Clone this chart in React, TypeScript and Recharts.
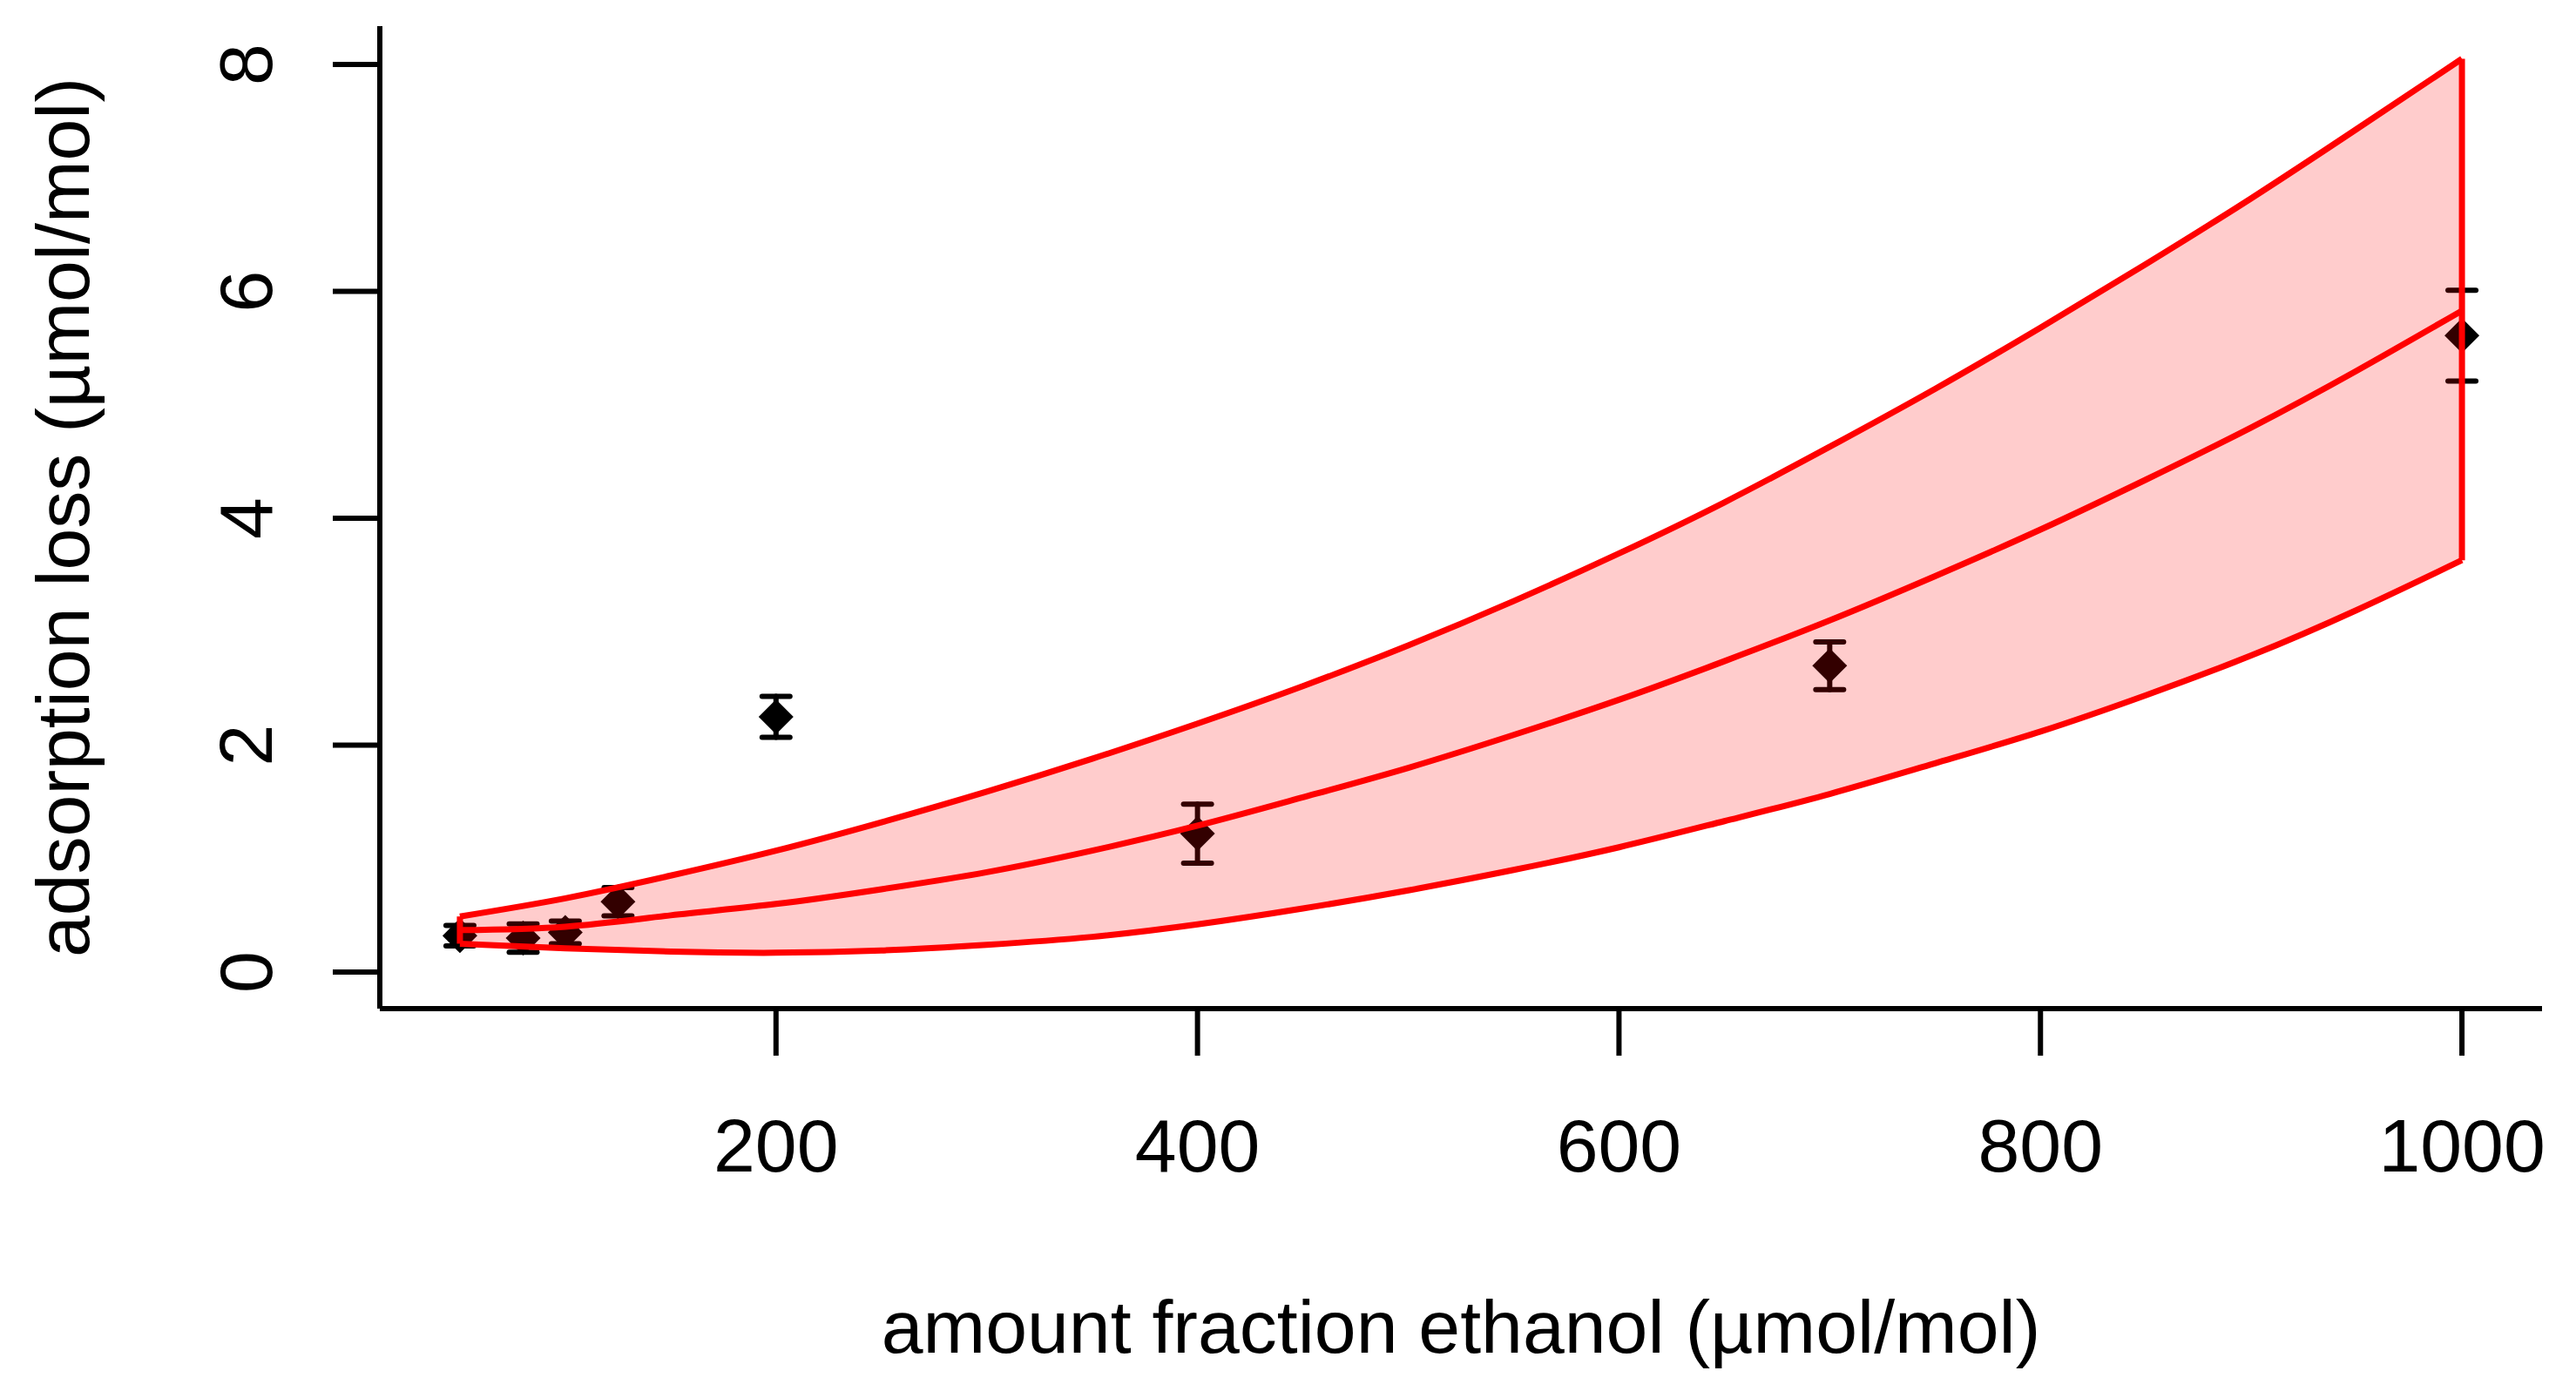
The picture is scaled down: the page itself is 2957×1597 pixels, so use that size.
import React from "react";
import {
  ComposedChart,
  XAxis,
  YAxis,
  Line,
  Area,
  Scatter,
  ErrorBar,
  ReferenceLine,
} from "recharts";

// ---- data ----
const curveX = [50, 100, 150, 200, 250, 300, 350, 400, 450, 500, 550, 600, 650, 700, 750, 800, 850, 900, 950, 1000];
const fitMid = [0.37, 0.40, 0.50, 0.60, 0.73, 0.88, 1.07, 1.29, 1.54, 1.80, 2.09, 2.40, 2.74, 3.10, 3.49, 3.90, 4.34, 4.80, 5.30, 5.83];
const fitUpper = [0.49, 0.65, 0.85, 1.07, 1.32, 1.59, 1.88, 2.19, 2.52, 2.88, 3.27, 3.69, 4.14, 4.63, 5.14, 5.68, 6.24, 6.82, 7.43, 8.05];
const fitLower = [0.25, 0.21, 0.18, 0.17, 0.19, 0.24, 0.31, 0.42, 0.56, 0.72, 0.90, 1.10, 1.33, 1.57, 1.84, 2.12, 2.44, 2.79, 3.19, 3.63];

const pointX = [50, 80, 100, 125, 200, 400, 700, 1000];
const pointY = [0.32, 0.30, 0.35, 0.62, 2.25, 1.22, 2.70, 5.61];
const pointErr = [0.09, 0.125, 0.10, 0.125, 0.18, 0.26, 0.21, 0.40];

const xTicks = [200, 400, 600, 800, 1000];
const yTicks = [0, 2, 4, 6, 8];
const xDomain = [12, 1038];
const yDomain = [-0.3225, 8.338];

const xTitle = "amount fraction ethanol (µmol/mol)";
const yTitle = "adsorption loss (µmol/mol)";

// ---- tables built from the arrays ----
const curveRows = curveX.map((x, i) => ({
  x,
  mid: fitMid[i],
  upper: fitUpper[i],
  lower: fitLower[i],
  band: [fitLower[i], fitUpper[i]],
}));

const pointRows = pointX.map((x, i) => ({ x, y: pointY[i], err: pointErr[i] }));

const FONT = "'Liberation Sans', Arial, Helvetica, sans-serif";
const FS = 86;
const RED = "#ff0000";

const XTick = (props: any) => {
  const { x, y, payload } = props;
  return (
    <text x={x} y={y + 133} textAnchor="middle" fontFamily={FONT} fontSize={FS} fill="#000">
      {payload.value}
    </text>
  );
};

const YTick = (props: any) => {
  const { x, y, payload } = props;
  const bx = x - 70;
  return (
    <text
      x={bx}
      y={y}
      transform={`rotate(-90, ${bx}, ${y})`}
      textAnchor="middle"
      fontFamily={FONT}
      fontSize={FS}
      fill="#000"
    >
      {payload.value}
    </text>
  );
};

const XTitle = (props: any) => {
  const vb = props.viewBox;
  return (
    <text
      x={vb.x + vb.width / 2}
      y={vb.y + 395}
      textAnchor="middle"
      fontFamily={FONT}
      fontSize={FS}
      fill="#000"
    >
      {xTitle}
    </text>
  );
};

const YTitle = (props: any) => {
  const vb = props.viewBox;
  const bx = vb.x + 94;
  const cy = vb.y + vb.height / 2;
  return (
    <text
      x={bx}
      y={cy}
      transform={`rotate(-90, ${bx}, ${cy})`}
      textAnchor="middle"
      fontFamily={FONT}
      fontSize={FS}
      fill="#000"
    >
      {yTitle}
    </text>
  );
};

const Diamond = (props: any) => {
  const { cx, cy } = props;
  const r = 20;
  return (
    <polygon
      points={`${cx},${cy - r} ${cx + r},${cy} ${cx},${cy + r} ${cx - r},${cy}`}
      fill="#000"
    />
  );
};

const last = curveX.length - 1;

export default function App() {
  return (
    <div style={{ width: 2941, height: 1581, background: "#fff" }}>
      <ComposedChart
        width={2941}
        height={1581}
        data={curveRows}
        margin={{ top: 22, right: 31, left: 0, bottom: 11 }}
      >
        <XAxis
          dataKey="x"
          type="number"
          domain={xDomain}
          allowDataOverflow
          ticks={xTicks}
          interval={0}
          height={420}
          tickSize={54}
          tickMargin={0}
          axisLine={{ stroke: "#000", strokeWidth: 6 }}
          tickLine={{ stroke: "#000", strokeWidth: 6 }}
          tick={<XTick />}
          label={<XTitle />}
        />
        <YAxis
          type="number"
          domain={yDomain}
          allowDataOverflow
          ticks={yTicks}
          interval={0}
          width={428}
          tickSize={54}
          tickMargin={0}
          axisLine={{ stroke: "#000", strokeWidth: 6 }}
          tickLine={{ stroke: "#000", strokeWidth: 6 }}
          tick={<YTick />}
          label={<YTitle />}
        />
        <Scatter
          data={pointRows}
          dataKey="y"
          shape={<Diamond />}
          isAnimationActive={false}
          zIndex={50}
        >
          <ErrorBar
            dataKey="err"
            direction="y"
            width={16}
            stroke="#000"
            strokeWidth={6}
            strokeLinecap="round"
            isAnimationActive={false}
            zIndex={50}
          />
        </Scatter>
        <Area
          dataKey="band"
          type="natural"
          fill={RED}
          fillOpacity={0.2}
          stroke="none"
          isAnimationActive={false}
          dot={false}
          activeDot={false}
        />
        <Line dataKey="upper" type="natural" stroke={RED} strokeWidth={7} dot={false} activeDot={false} isAnimationActive={false} />
        <Line dataKey="mid" type="natural" stroke={RED} strokeWidth={7} dot={false} activeDot={false} isAnimationActive={false} />
        <Line dataKey="lower" type="natural" stroke={RED} strokeWidth={7} dot={false} activeDot={false} isAnimationActive={false} />
        <ReferenceLine
          segment={[
            { x: curveX[0], y: fitLower[0] },
            { x: curveX[0], y: fitUpper[0] },
          ]}
          stroke={RED}
          strokeWidth={7}
        />
        <ReferenceLine
          segment={[
            { x: curveX[last], y: fitLower[last] },
            { x: curveX[last], y: fitUpper[last] },
          ]}
          stroke={RED}
          strokeWidth={7}
        />
      </ComposedChart>
    </div>
  );
}
